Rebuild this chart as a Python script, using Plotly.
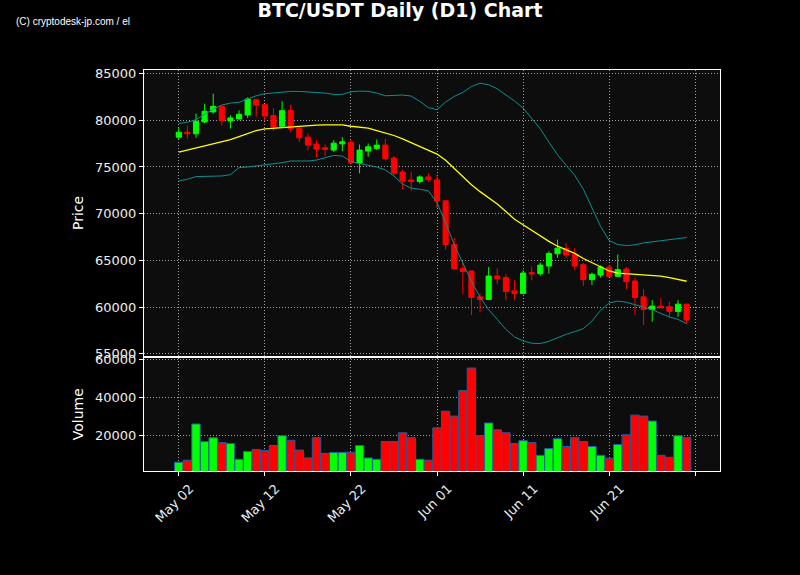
import pandas as pd
import plotly.graph_objects as go

# daily candles, 2 May .. 30 Jun
dates = pd.date_range("2024-05-02", periods=60, freq="D")

opens = [78190, 78720, 78550, 79820, 80890, 81490, 79930, 80140, 80570, 82200,
         81670, 80500, 79360, 81060, 79150, 78190, 77450, 77060, 76810, 77480,
         77660, 75430, 76700, 76990, 77340, 75960, 74470, 73620, 73440, 73940,
         73620, 71380, 66700, 64150, 63870, 61100, 60820, 63330, 63160, 61740,
         61450, 63690, 63580, 64400, 65710, 66280, 65640, 64540, 62940, 63440,
         64290, 63300, 64080, 62800, 61100, 59750, 60110, 60040, 59540, 60320]
highs = [79220, 79430, 80710, 81770, 82840, 81520, 80530, 81060, 82450, 82270,
         81700, 81310, 82020, 81670, 79260, 78580, 77870, 77410, 77870, 78190,
         77940, 77410, 77520, 77940, 78010, 76170, 74750, 74500, 74110, 74330,
         74080, 71420, 67410, 64750, 63900, 61450, 64290, 64150, 63510, 62870,
         63940, 64360, 64750, 65990, 67230, 66880, 66350, 64750, 63690, 64470,
         64470, 65640, 64290, 63160, 61920, 60750, 60960, 60570, 60750, 60330]
lows = [77940, 78010, 78120, 79680, 80710, 79430, 79110, 80070, 80250, 80390,
        79890, 78830, 79180, 78720, 77660, 76770, 76030, 76170, 76600, 76700,
        75280, 74330, 76100, 76810, 75710, 74110, 72620, 72450, 73230, 73400,
        70600, 66170, 64090, 61380, 59150, 59430, 60790, 62450, 60750, 60750,
        61420, 62870, 63370, 63580, 65280, 65280, 63940, 62270, 62380, 63160,
        63230, 63230, 61920, 59150, 58090, 58440, 59900, 58900, 58970, 58260]
closes = [78720, 78550, 79890, 80960, 81490, 79970, 80250, 80640, 82270, 81630,
          80460, 79290, 81030, 79080, 78120, 77340, 76910, 76880, 77550, 77690,
          75460, 76810, 77160, 77340, 75890, 74330, 73510, 73440, 73940, 73650,
          71380, 66700, 64110, 63800, 61030, 60820, 63330, 63050, 61670, 61450,
          63650, 63550, 64500, 65750, 66310, 65570, 64400, 62940, 63510, 64290,
          63300, 64010, 62730, 61030, 59750, 60110, 59930, 59540, 60320, 58620]
volumes = [6160, 7180, 26150, 16920, 18970, 16410, 15900, 7690, 11800, 12820,
           12310, 14870, 20000, 17610, 12480, 8380, 18970, 10770, 11280, 11280,
           11280, 14870, 8380, 7690, 16920, 16920, 21540, 18970, 7690, 7180,
           24100, 32820, 30260, 43590, 55390, 20000, 26670, 23080, 21540, 15900,
           17440, 16410, 9740, 13330, 18460, 14360, 18970, 16920, 14360, 9740,
           8210, 15390, 20510, 30770, 30260, 27690, 9740, 8720, 20000, 18970]

# bollinger bands (20, 2)
bb_mid = [76600, 76810, 77020, 77270, 77520, 77730, 77940, 78260, 78620, 78900,
          79080, 79150, 79220, 79290, 79380, 79430, 79470, 79500, 79500, 79500,
          79360, 79290, 79150, 78900, 78650, 78370, 78010, 77620, 77200, 76800,
          76380, 75730, 74840, 73970, 73100, 72360, 71720, 71050, 70230, 69410,
          68810, 68210, 67590, 67040, 66520, 66140, 65750, 65210, 64750, 64330,
          63870, 63650, 63580, 63550, 63510, 63440, 63330, 63160, 62980, 62770]
bb_upper = [79650, 79790, 80070, 80600, 81210, 81630, 81840, 81920, 82270, 82630,
            82840, 82910, 83050, 83090, 83090, 83050, 83010, 82910, 82770, 82770,
            83050, 83120, 83090, 82910, 82620, 82660, 82700, 82590, 82020, 81350,
            81140, 81950, 82550, 82980, 83620, 83970, 83800, 83370, 82730, 82060,
            81310, 80250, 79080, 77660, 76310, 75180, 74110, 72620, 70670, 68650,
            67130, 66700, 66590, 66670, 66880, 66980, 67090, 67200, 67270, 67450]
bb_lower = [73510, 73690, 73970, 74010, 74040, 74040, 74180, 74930, 75000, 75110,
            75250, 75350, 75460, 75640, 75640, 75640, 75740, 75960, 76240, 76170,
            75600, 75360, 75180, 75000, 74680, 74040, 73160, 72730, 72620, 72450,
            71170, 69040, 66700, 64790, 62760, 61060, 59720, 58690, 57620, 56810,
            56380, 56140, 56100, 56350, 56740, 57090, 57380, 57700, 58510, 59650,
            60460, 60640, 60530, 60280, 60000, 59720, 59330, 58940, 58690, 58230]

tick_dates = ["2024-05-02", "2024-05-12", "2024-05-22", "2024-06-01",
              "2024-06-11", "2024-06-21", "2024-07-01"]
tick_text = ["May 02", "May 12", "May 22", "Jun 01", "Jun 11", "Jun 21", ""]

GREEN = "#00ff00"
RED = "#ff0000"
vol_colors = [GREEN if c >= o else RED for o, c in zip(opens, closes)]

fig = go.Figure()

fig.add_trace(go.Scatter(x=dates, y=bb_upper, mode="lines",
                         line=dict(color="#0b8f8f", width=1), xaxis="x", yaxis="y"))
fig.add_trace(go.Scatter(x=dates, y=bb_lower, mode="lines",
                         line=dict(color="#0b8f8f", width=1), xaxis="x", yaxis="y"))
fig.add_trace(go.Scatter(x=dates, y=bb_mid, mode="lines",
                         line=dict(color="#ffff00", width=1.3), xaxis="x", yaxis="y"))

fig.add_trace(go.Candlestick(
    x=dates, open=opens, high=highs, low=lows, close=closes,
    increasing=dict(line=dict(color=GREEN, width=1), fillcolor=GREEN),
    decreasing=dict(line=dict(color=RED, width=1), fillcolor=RED),
    xaxis="x", yaxis="y"))

fig.add_trace(go.Bar(x=dates, y=volumes, marker_color=vol_colors,
                     marker_line=dict(color="#1f5f9f", width=1),
                     width=86400000 * 0.98, xaxis="x2", yaxis="y2"))

axis_common = dict(
    showline=True, linecolor="white", linewidth=1, mirror=True,
    showgrid=True, gridcolor="#a0a0a0", griddash="1px,2px", gridwidth=1,
    ticks="outside", tickcolor="white", ticklen=4,
    tickfont=dict(color="#eeeeee", size=13), zeroline=False,
)
x_range = ["2024-04-27 23:00", "2024-07-03 21:00"]

fig.update_layout(
    width=800, height=575,
    paper_bgcolor="black", plot_bgcolor="#0d0d0d",
    font=dict(family="DejaVu Sans", color="white"),
    showlegend=False,
    margin=dict(l=144, r=80, t=70, b=104),
    boxgap=0.15,
    title=dict(text="<b>BTC/USDT Daily (D1) Chart</b>", x=0.5, xanchor="center",
               y=0.982, yanchor="middle", font=dict(size=19, color="white")),
    xaxis=dict(axis_common, domain=[0, 1], range=x_range, anchor="y",
               tickvals=tick_dates, showticklabels=False, ticks="",
               rangeslider=dict(visible=False)),
    yaxis=dict(axis_common, domain=[0.287, 1], range=[54780, 85380],
               tickvals=[55000, 60000, 65000, 70000, 75000, 80000, 85000],
               tickformat="d",
               title=dict(text="Price", standoff=8,
                          font=dict(size=14, color="white"))),
    xaxis2=dict(axis_common, domain=[0, 1], range=x_range, anchor="y2",
                tickvals=tick_dates, ticktext=tick_text, tickangle=-45,
                ticklabelshift=11),
    yaxis2=dict(axis_common, domain=[0, 0.283], range=[1550, 60900],
                tickvals=[20000, 40000, 60000], tickformat="d",
                title=dict(text="Volume", standoff=8,
                           font=dict(size=14, color="white"))),
)

fig.add_annotation(text="(C) cryptodesk-jp.com / el", xref="paper", yref="paper",
                   x=-0.226, y=1.122, xanchor="left", yanchor="middle",
                   showarrow=False, font=dict(family="Liberation Sans", size=10, color="white"))

# page body has a default 8px margin; drop it so the figure sits at (0, 0)
fig.write_html("out.html", config={"displayModeBar": False},
               post_script="document.body.style.margin='0';document.body.style.background='black';")
